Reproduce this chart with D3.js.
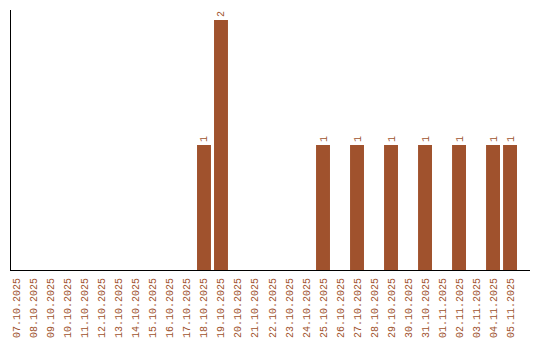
<!DOCTYPE html>
<html>
<head>
<meta charset="utf-8">
<script src="https://cdn.jsdelivr.net/npm/d3@7"></script>
<style>
html,body{margin:0;padding:0;background:#fff;}
svg{display:block;}
</style>
</head>
<body>
<svg id="chart" width="540" height="340"></svg>
<script>
const categories = ["07.10.2025","08.10.2025","09.10.2025","10.10.2025","11.10.2025","12.10.2025","13.10.2025","14.10.2025","15.10.2025","16.10.2025","17.10.2025","18.10.2025","19.10.2025","20.10.2025","21.10.2025","22.10.2025","23.10.2025","24.10.2025","25.10.2025","26.10.2025","27.10.2025","28.10.2025","29.10.2025","30.10.2025","31.10.2025","01.11.2025","02.11.2025","03.11.2025","04.11.2025","05.11.2025"];
const values = [0,0,0,0,0,0,0,0,0,0,0,1,2,0,0,0,0,0,1,0,1,0,1,0,1,0,1,0,1,1];

const color = "#a0522d";
const font = "'Liberation Mono', 'DejaVu Sans Mono', monospace";
const svg = d3.select("#chart");
const mLeft = 10, mRight = 530, mTop = 10, mBottom = 270;

const x = d3.scaleBand().domain(categories).range([mLeft, 517]).paddingInner(0.18).paddingOuter(0);
const y = d3.scaleLinear().domain([0, 2]).range([mBottom, 20]);

const data = categories.map((c, i) => ({c, v: values[i]}));

svg.append("g").selectAll("rect").data(data.filter(d => d.v > 0)).join("rect")
  .attr("x", d => x(d.c))
  .attr("y", d => y(d.v))
  .attr("width", x.bandwidth())
  .attr("height", d => y(0) - y(d.v))
  .attr("fill", color);

svg.append("g").selectAll("text").data(data.filter(d => d.v > 0)).join("text")
  .attr("transform", d => `translate(${x(d.c) + x.bandwidth()/2},${y(d.v) - 3}) rotate(-90)`)
  .attr("dy", "0.35em")
  .attr("text-anchor", "start")
  .attr("font-family", font)
  .attr("font-size", 10)
  .attr("fill", color)
  .text(d => d.v);

// x axis labels
const xAxis = d3.axisBottom(x).tickSize(0).tickSizeOuter(0);
const gx = svg.append("g").attr("transform", `translate(0,${mBottom})`).call(xAxis);
gx.select(".domain").remove();
gx.selectAll(".tick text")
  .attr("font-family", font)
  .attr("font-size", 10)
  .attr("fill", color)
  .attr("text-anchor", "end")
  .attr("transform", "rotate(-90)")
  .attr("x", -8)
  .attr("y", 0)
  .attr("dy", "0.35em");

// axis lines
svg.append("line").attr("x1", mLeft + 0.5).attr("x2", mLeft + 0.5).attr("y1", mTop).attr("y2", mBottom + 1)
  .attr("stroke", "#000").attr("stroke-width", 1);
svg.append("line").attr("x1", mLeft).attr("x2", mRight).attr("y1", mBottom + 0.5).attr("y2", mBottom + 0.5)
  .attr("stroke", "#000").attr("stroke-width", 1);
</script>
</body>
</html>
